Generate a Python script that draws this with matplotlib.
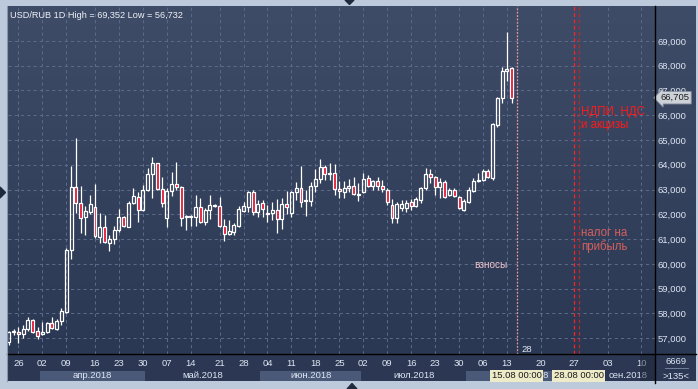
import numpy as np
import matplotlib
matplotlib.use("Agg")
import matplotlib.pyplot as plt
from matplotlib.patches import Rectangle, Polygon
from matplotlib.colors import LinearSegmentedColormap
from matplotlib.transforms import blended_transform_factory

plt.rcParams['font.family'] = ['Liberation Sans', 'DejaVu Sans']

# USD/RUB daily candles, 22.03.2018 - 14.08.2018
opens = [56.86, 57.24, 57.24, 57.16, 57.38, 57.73, 57.29, 57.17, 57.25, 57.60,
         57.37, 57.69, 58.05, 60.55, 63.09, 62.44, 61.90, 62.08, 62.28, 61.10,
         61.50, 60.85, 61.00, 61.36, 61.88, 61.50, 62.44, 62.71, 62.19, 62.98,
         63.62, 64.06, 63.02, 61.84, 62.93, 63.21, 63.09, 61.88, 61.90, 61.88,
         62.28, 61.70, 62.17, 62.36, 62.34, 61.54, 61.19, 61.30, 61.53, 62.15,
         62.31, 62.90, 62.11, 62.44, 62.05, 62.04, 62.17, 61.80, 62.40, 62.07,
         62.89, 63.05, 62.53, 62.55, 63.14, 63.41, 63.92, 63.63, 63.66, 63.01,
         62.92, 63.05, 63.14, 62.80, 62.91, 63.45, 63.14, 63.35, 63.14, 62.98,
         62.38, 61.84, 62.24, 62.25, 62.51, 62.34, 62.58, 63.05, 63.63, 63.49,
         63.09, 63.32, 62.78, 62.98, 62.69, 62.17, 62.51, 62.95, 63.36, 63.39,
         63.76, 63.45, 65.60, 66.68, 67.80, 67.89]
highs = [57.30, 57.36, 57.46, 57.53, 57.87, 57.78, 57.44, 57.67, 57.67, 57.87,
         57.76, 58.21, 60.65, 63.96, 65.09, 63.14, 62.34, 62.77, 63.22, 62.04,
         61.97, 61.17, 61.53, 62.20, 61.93, 62.53, 63.05, 62.91, 63.18, 63.86,
         64.33, 64.08, 63.49, 63.05, 63.70, 64.10, 63.14, 61.97, 61.97, 62.78,
         62.64, 62.24, 62.78, 62.40, 62.71, 61.80, 61.77, 61.64, 62.34, 62.51,
         62.95, 62.98, 62.58, 62.58, 62.38, 62.51, 62.61, 62.64, 62.95, 62.95,
         63.32, 63.95, 62.98, 63.32, 63.82, 64.22, 63.99, 64.08, 64.03, 63.36,
         63.35, 63.41, 63.52, 63.28, 63.66, 63.59, 63.39, 63.52, 63.39, 63.05,
         62.60, 62.51, 62.58, 62.58, 62.61, 62.71, 63.12, 63.86, 63.82, 63.55,
         63.45, 63.39, 63.05, 63.05, 62.74, 62.61, 63.12, 63.45, 63.66, 63.82,
         63.82, 65.70, 66.74, 67.93, 69.352, 67.96]
lows = [56.732, 57.13, 56.79, 57.00, 57.30, 57.22, 56.97, 57.13, 57.20, 57.36,
        57.33, 57.53, 58.00, 60.18, 62.07, 61.26, 61.17, 62.01, 61.03, 60.83,
        60.83, 60.53, 60.80, 61.30, 61.48, 61.48, 62.42, 61.70, 62.15, 62.95,
        62.67, 62.98, 62.31, 61.50, 62.74, 62.98, 61.53, 61.37, 61.53, 61.53,
        61.64, 61.57, 61.80, 62.30, 61.50, 60.94, 61.17, 61.17, 61.50, 62.11,
        62.11, 61.97, 61.90, 61.90, 61.70, 61.77, 61.23, 61.40, 62.01, 61.90,
        62.58, 62.31, 61.94, 62.34, 62.91, 63.28, 63.39, 63.39, 62.78, 62.64,
        62.64, 62.91, 62.78, 62.55, 62.87, 63.12, 62.98, 62.98, 62.91, 62.38,
        61.64, 61.64, 62.15, 62.11, 62.17, 62.31, 62.44, 62.98, 63.25, 62.78,
        62.64, 62.64, 62.74, 62.69, 62.20, 62.15, 62.47, 62.91, 63.32, 63.36,
        63.45, 63.40, 65.54, 66.51, 67.38, 66.51]
closes = [57.24, 57.29, 57.17, 57.38, 57.73, 57.26, 57.10, 57.26, 57.63, 57.40,
          57.68, 58.10, 60.56, 63.09, 62.44, 61.86, 62.12, 62.40, 61.14, 61.50,
          60.88, 61.00, 61.36, 61.88, 61.53, 62.46, 62.74, 62.17, 62.98, 63.63,
          64.06, 63.02, 62.44, 62.94, 63.21, 63.09, 61.84, 61.92, 61.92, 62.28,
          61.70, 62.17, 62.38, 62.34, 61.54, 61.19, 61.33, 61.56, 62.21, 62.34,
          62.90, 62.11, 62.42, 62.20, 62.03, 62.17, 61.80, 62.42, 62.31, 62.91,
          63.05, 62.51, 62.56, 63.14, 63.41, 63.92, 63.62, 63.66, 63.01, 62.93,
          63.05, 63.14, 62.82, 62.79, 63.41, 63.14, 63.35, 63.14, 63.02, 62.48,
          61.84, 62.40, 62.42, 62.47, 62.34, 62.61, 63.05, 63.63, 63.49, 63.09,
          63.32, 62.71, 62.98, 62.74, 62.24, 62.54, 62.98, 63.36, 63.40, 63.76,
          63.52, 65.65, 66.68, 67.78, 67.85, 66.705]

# bar index of each weekly label (future part runs in calendar days)
tick_pos = [2, 7, 12, 18, 23, 28, 33, 38, 44, 49, 54, 59, 64, 69,
            74, 79, 84, 89, 94, 99, 104, 111, 118, 125, 132]
tick_labels = ['26', '02', '09', '16', '23', '30', '07', '14', '21', '28', '04',
               '11', '18', '25', '02', '09', '16', '23', '30', '06', '13',
               '20', '27', '03', '10']
month_names = ['', 'апр.2018', 'май.2018', 'июн.2018', 'июл.2018', 'авг.2018', 'сен.2018']
month_edges = [-0.5, 6.5, 28.5, 52.5, 73.5, 95.5, 122.5, 136]
price_ticks = list(range(57, 70))

# tax dates: 15.08 (взносы), 27.08 (НДПИ, НДС, акцизы), 28.08 (налог на прибыль)
ev_insurance = 106
ev_vat = 118
ev_profit = 119

W, H = 698, 389
BG_TOP = '#3f4c67'
BG_BOT = '#2b3853'
TXT = '#dde6f3'


def fig_rect(x0, y0, x1, y1):
    return [x0 / W, 1 - y1 / H, (x1 - x0) / W, (y1 - y0) / H]


fig = plt.figure(figsize=(W / 100, H / 100), dpi=100, facecolor='#bccadb')

# background gradient of plot + right scale
bg = fig.add_axes(fig_rect(7, 6, 696, 354.3), zorder=0)
cmap = LinearSegmentedColormap.from_list('bg', [BG_TOP, BG_BOT])
bg.imshow(np.linspace(0, 1, 100).reshape(-1, 1), aspect='auto', cmap=cmap,
          extent=(0, 1, 0, 1), interpolation='bilinear')
bg.axis('off')

# bottom date panel
dp = fig.add_axes(fig_rect(7, 354.3, 696, 381), zorder=0)
dp.set_facecolor('#2c3853')
dp.set_xticks([])
dp.set_yticks([])
for s in dp.spines.values():
    s.set_visible(False)

# main chart
ax = fig.add_axes(fig_rect(8.3, 6, 655, 354.3), zorder=2)
ax.patch.set_alpha(0)
ax.set_xlim(-0.1, 134.9)
ax.set_ylim(56.35, 70.408)

x = np.arange(len(opens))
o = np.array(opens)
c = np.array(closes)
hi = np.array(highs)
lo = np.array(lows)
top = np.maximum(o, c)
bot = np.minimum(o, c)
up = c >= o
ax.vlines(x, top, hi, color='white', lw=0.9, zorder=3)
ax.vlines(x, lo, bot, color='white', lw=0.9, zorder=3)
ax.bar(x[up], np.maximum(top - bot, 0.012)[up], bottom=bot[up], width=0.62,
       facecolor='none', edgecolor='white', lw=0.9, zorder=3)
ax.bar(x[~up], (top - bot)[~up], bottom=bot[~up], width=0.62,
       facecolor='#e3122f', edgecolor='white', lw=0.9, zorder=3)

ax.set_yticks(price_ticks, labels=[f'{v:.3f}'.replace('.', ',') for v in price_ticks])
ax.yaxis.tick_right()
ax.set_xticks(tick_pos, labels=tick_labels)
ax.tick_params(axis='y', length=0, pad=2, labelsize=6.8, labelcolor=TXT)
ax.tick_params(axis='x', length=0, pad=3.5, labelsize=6.8, labelcolor=TXT)
ax.grid(True, color='#5b6a8a', lw=0.75, linestyle=(0, (3, 3)))
ax.set_axisbelow(True)
for s in ax.spines.values():
    s.set_visible(False)

# event lines and notes
ax.axvline(ev_insurance, color='#e89a9a', lw=0.9, linestyle=(0, (1.5, 1.2)), zorder=2)
ax.axvline(ev_vat, color='#ff2020', lw=0.9, linestyle=(0, (3, 2)), zorder=2)
ax.axvline(ev_profit, color='#b82828', lw=0.9, linestyle=(0, (3, 2)), zorder=2)
ax.text(ev_insurance - 1.8, 59.95, 'взносы', color='#f0c4cc', fontsize=7.2,
        ha='right', va='center')
ax.text(ev_profit + 0.5, 66.02, 'НДПИ, НДС', color='#ff1a1a', fontsize=8.3,
        ha='left', va='baseline')
ax.text(ev_profit + 0.5, 65.50, 'и акцизы', color='#ff1a1a', fontsize=8.3,
        ha='left', va='baseline')
ax.text(ev_profit + 0.5, 61.25, 'налог на', color='#d4605e', fontsize=8.3,
        ha='left', va='center')
ax.text(ev_profit + 0.5, 60.70, 'прибыль', color='#d4605e', fontsize=8.3,
        ha='left', va='center')
ax.text(ev_insurance + 2.2, 56.56, '28', color=TXT, fontsize=6.8,
        ha='center', va='center')

# current price tag
tr = blended_transform_factory(ax.transAxes, ax.transData)
ax.text(1.0085, closes[-1], f'{closes[-1]:.3f}'.replace('.', ','), transform=tr,
        fontsize=6.8, color='#1c1c1c', ha='left', va='center', zorder=5,
        bbox=dict(boxstyle='larrow,pad=0.18', fc='#cdd1d8', ec='#8a92a0', lw=0.6))

# month strip
mx = fig.add_axes(fig_rect(8.3, 371, 655, 381), zorder=1)
mx.set_xlim(ax.get_xlim())
mx.set_ylim(0, 1)
mx.axis('off')
for i, name in enumerate(month_names):
    a, b = month_edges[i], month_edges[i + 1]
    if i % 2 == 1:
        mx.axvspan(a, b, color='#4a5977', lw=0)
    if name:
        mx.text((a + b) / 2, 0.5, name, color=TXT, fontsize=6.8,
                ha='center', va='center')
for d, lab in [(ev_insurance, '15.08 00:00'), (ev_profit, '28.08 00:00')]:
    mx.text(d, 0.5, lab, color='#1a1a1a', fontsize=6.8, ha='center', va='center',
            bbox=dict(boxstyle='square,pad=0.15', fc='#eeebc8', ec='none'))

# frame decorations in pixel coordinates
ov = fig.add_axes([0, 0, 1, 1], zorder=4)
ov.set_xlim(0, W)
ov.set_ylim(H, 0)
ov.axis('off')
ov.add_patch(Rectangle((640, 354.3), 15, 26.7, color='#1c2538', alpha=0.45, lw=0))
ov.plot([655, 655], [6, 383], color='black', lw=1)
ov.plot([7, 696], [354.3, 354.3], color='black', lw=1)
ov.plot([7, 7], [6, 381], color='#8797ad', lw=0.8)
ov.text(10, 15, 'USD/RUB 1D High = 69,352 Low = 56,732', color='#eef2f8',
        fontsize=6.6, ha='left', va='center')
ov.text(676, 361.5, '6669', color=TXT, fontsize=6.8, ha='center', va='center')
ov.plot([665, 688], [368, 368], color='#7d8aa3', lw=0.6)
ov.text(676, 376.5, '>135<', color=TXT, fontsize=6.8, ha='center', va='center')
ov.add_patch(Polygon([(345, 0), (354, 0), (349.5, 4.5)], closed=True, color='#1f2a3f'))
ov.add_patch(Polygon([(0, 187), (0, 198), (5.5, 192.5)], closed=True, color='#1f2a3f'))
ov.add_patch(Polygon([(347, 389), (357, 389), (352, 383.5)], closed=True, color='#1f2a3f'))

fig.savefig('out.png', dpi=100, facecolor=fig.get_facecolor())
